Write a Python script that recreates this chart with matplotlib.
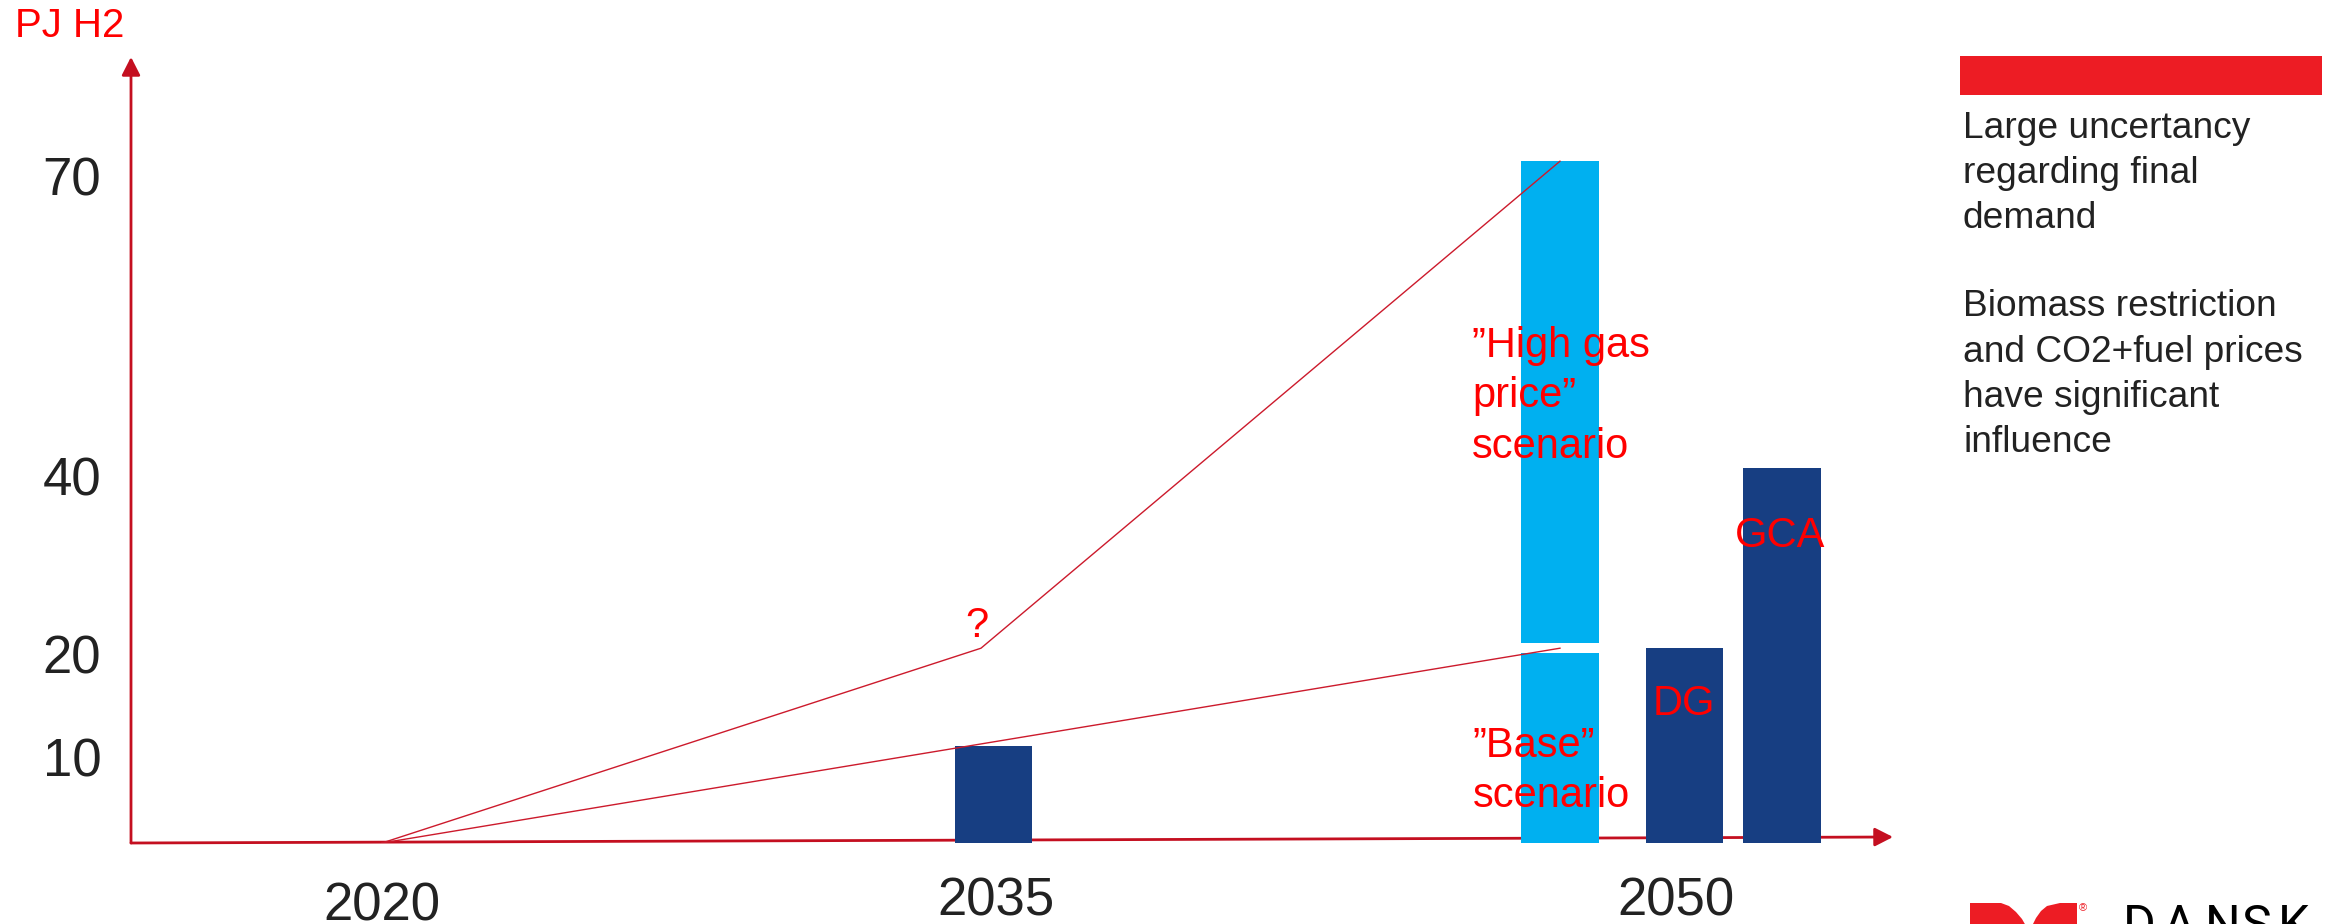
import matplotlib
matplotlib.use("Agg")
import matplotlib.pyplot as plt
from matplotlib.transforms import ScaledTranslation
from matplotlib.patches import Polygon, Rectangle

plt.rcParams['font.family'] = ['Liberation Sans', 'DejaVu Sans']

# ---------------------------------------------------------------- data
unit_label = "PJ H2"
year_labels = ["2020", "2035", "2050"]
y_ticks = [10, 20, 40, 70]

# demand pathways, PJ H2
high_path_years = [2020, 2035, 2050]
high_path_values = [0, 20, 70]
base_path_years = [2020, 2050]
base_path_values = [0, 20]

# modelled demand, PJ H2
demand_2035 = 10
scenario_base_2050 = 20
scenario_high_gas_2050 = 70
dg_2050 = 20
gca_2050 = 38.5

side_notes = [
    ["Large uncertancy", "regarding final", "demand"],
    ["Biomass restriction", "and CO2+fuel prices", "have significant", "influence"],
]

# ---------------------------------------------------------------- style
W, H, DPI = 2336, 924, 100
AXIS_RED = "#C40F20"
LINE_RED = "#CC1A2C"
TEXT_RED = "#FF0000"
NAVY = "#173E82"
SKY = "#00B0F0"
BANNER_RED = "#ED1C24"
INK = "#222222"

# horizontal placement of each year on the time axis
slot = {2020: 2020.0, 2035: 2035.0, 2050: 2049.5}
bar_w = 1.93
gap = 1.0

fig = plt.figure(figsize=(W / DPI, H / DPI), dpi=DPI, facecolor="white")
ax = fig.add_axes([131 / W, 81 / H, 1762 / W, 786 / H])
ax.set_xlim(2013.714, 2057.84)
ax.set_ylim(0, 80.7)
for s in ax.spines.values():
    s.set_visible(False)
ax.set_facecolor("none")

# axes drawn as arrows
arrow_kw = dict(arrowstyle="-|>,head_length=11,head_width=5.6", mutation_scale=1,
                lw=2.0, color=AXIS_RED, shrinkA=0, shrinkB=0)
ax.annotate("", xy=(0, 1), xytext=(0, 0), xycoords="axes fraction",
            arrowprops=arrow_kw, annotation_clip=False, zorder=2)
ax.annotate("", xy=(1, 6 / 786), xytext=(0, 0), xycoords="axes fraction",
            arrowprops=arrow_kw, annotation_clip=False, zorder=2)

# y ticks
ax.set_yticks(y_ticks)
ax.set_yticklabels([str(v) for v in y_ticks])
ax.tick_params(axis="y", length=0, pad=21.5, labelsize=38, labelcolor=INK)
ytick_nudge_px = [11, 6, 23, 15]
for lab, dy in zip(ax.get_yticklabels(), ytick_nudge_px):
    lab.set_transform(lab.get_transform() + ScaledTranslation(0, -dy / DPI, fig.dpi_scale_trans))

# x ticks under each year group
group_centres = [slot[2020], slot[2035] + 0.38, slot[2050] + 2.9]
ax.set_xticks(group_centres)
ax.set_xticklabels(year_labels)
ax.tick_params(axis="x", length=0, pad=24, labelsize=38, labelcolor=INK)
xtick_nudge_px = [5, 0, 0]
for lab, dy in zip(ax.get_xticklabels(), xtick_nudge_px):
    lab.set_transform(lab.get_transform() + ScaledTranslation(0, -dy / DPI, fig.dpi_scale_trans))

# bars
ax.bar(slot[2035] + 0.31, demand_2035, width=bar_w, color=NAVY, zorder=4)
ax.bar(slot[2050], scenario_base_2050 - gap / 2, width=bar_w, color=SKY, zorder=4)
ax.bar(slot[2050], scenario_high_gas_2050 - scenario_base_2050 - gap / 2,
       bottom=scenario_base_2050 + gap / 2, width=bar_w, color=SKY, zorder=4)
ax.bar(slot[2050] + 3.11, dg_2050, width=bar_w, color=NAVY, zorder=4)
ax.bar(slot[2050] + 5.56, gca_2050, width=bar_w, color=NAVY, zorder=4)

# pathways
ax.plot([slot[y] for y in high_path_years], high_path_values, color=LINE_RED, lw=1.0,
        zorder=5, solid_joinstyle="miter")
ax.plot([slot[y] for y in base_path_years], base_path_values, color=LINE_RED, lw=1.0,
        zorder=5)


def stacked(x, y, lines, step_px, **kw):
    for i, line in enumerate(lines):
        ax.annotate(line, xy=(x, y), xytext=(0, -i * step_px), textcoords="offset pixels",
                    va="baseline", annotation_clip=False, zorder=6, **kw)


red_kw = dict(color=TEXT_RED, fontsize=30)
stacked(2047.3, 49.9, ["\u201dHigh gas", "price\u201d", "scenario"], 50.5, ha="left", **red_kw)
stacked(2047.32, 8.83, ["\u201dBase\u201d", "scenario"], 50, ha="left", **red_kw)
stacked(slot[2050] + 3.11, 13.14, ["DG"], 0, ha="center", **red_kw)
stacked(slot[2050] + 5.5, 30.4, ["GCA"], 0, ha="center", **red_kw)
stacked(2034.9, 21.15, ["?"], 0, ha="center", **red_kw)


def fx(x):
    return x / W


def fy(y):
    return 1 - y / H


# unit label
fig.text(fx(15), fy(37), unit_label, color=TEXT_RED, fontsize=29, va="baseline", ha="left")

# side panel
fig.patches.append(Rectangle((fx(1960), fy(95)), (2322 - 1960) / W, 39 / H,
                             transform=fig.transFigure, color=BANNER_RED, lw=0))
baselines = [[138, 183, 228], [316, 362, 407, 452]]
for block, ys in zip(side_notes, baselines):
    for line, yb in zip(block, ys):
        fig.text(fx(1963), fy(yb), line, color=INK, fontsize=26.7, va="baseline", ha="left")

# company mark in the lower right corner
left_wing = [(1970, 903), (2001, 903), (2009, 906), (2016, 912), (2022, 919), (2026, 926), (1970, 926)]
right_wing = [(2047, 906), (2060, 903), (2077, 903), (2077, 926), (2032, 926), (2036, 918), (2041, 911)]
for wing in (left_wing, right_wing):
    fig.patches.append(Polygon([(fx(x), fy(y)) for x, y in wing], closed=True,
                               transform=fig.transFigure, color=BANNER_RED, lw=0))
fig.text(fx(2083), fy(908), "\u00ae", color=BANNER_RED, fontsize=8, ha="center", va="center")
for letter, xl in zip("DANSK", [2123, 2162, 2205, 2242, 2278]):
    fig.text(fx(xl), fy(903), letter, color="black", fontsize=36, ha="left", va="top",
             family=["Roboto", "DejaVu Sans"], fontweight="normal")

fig.savefig("out.png", dpi=DPI, facecolor="white")
